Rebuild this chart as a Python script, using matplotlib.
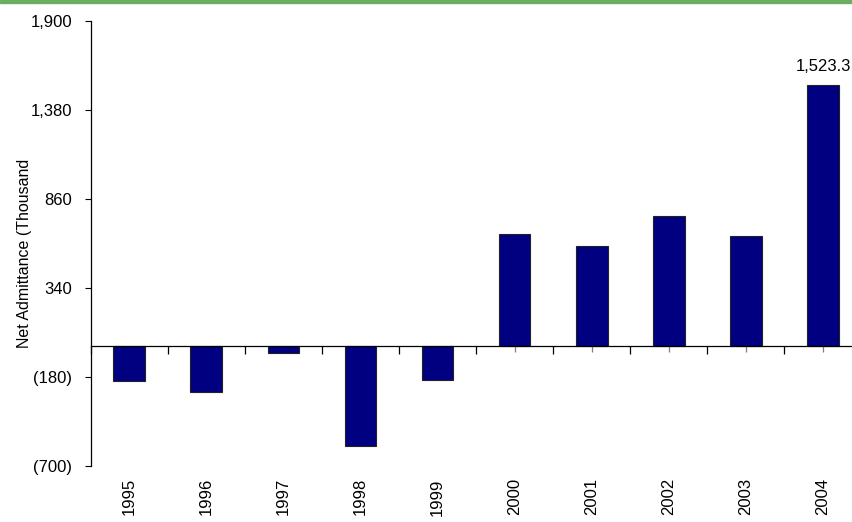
import matplotlib.pyplot as plt
from matplotlib.patches import Rectangle
from matplotlib.ticker import FuncFormatter
import numpy as np

plt.rcParams['font.family'] = ['Liberation Sans', 'DejaVu Sans']

years = ['1995', '1996', '1997', '1998', '1999', '2000', '2001', '2002', '2003', '2004']
net_admittance = [-205, -272, -42, -583, -200, 655, 586, 758, 643, 1523.3]
y_ticks = [-700, -180, 340, 860, 1380, 1900]


def fmt(v, pos=None):
    if v < 0:
        return '({:,.0f})'.format(-v)
    return '{:,.0f}'.format(v)


fig = plt.figure(figsize=(8.53, 5.22), dpi=100)
ax = fig.add_axes([0.1063, 0.1078, 0.9037, 0.8525])

x = np.arange(len(years))
ax.bar(x, net_admittance, width=0.41, color='#000080', edgecolor='#222222', linewidth=0.8, zorder=2)

# value label on the last bar only
ax.annotate('{:,.1f}'.format(net_admittance[-1]), xy=(x[-1], net_admittance[-1]),
            xytext=(0, 8), textcoords='offset points', ha='center', va='bottom', fontsize=12)

ax.set_xlim(-0.5, len(years) - 0.5)
ax.set_ylim(y_ticks[0], y_ticks[-1])
ax.set_yticks(y_ticks)
ax.yaxis.set_major_formatter(FuncFormatter(fmt))
ax.tick_params(axis='y', length=4.5, width=0.8, pad=9, labelsize=12)

# zero line carries the category ticks
ax.spines['bottom'].set_position(('data', 0))
ax.spines['top'].set_visible(False)
ax.spines['right'].set_visible(False)
ax.spines['left'].set_linewidth(0.9)
ax.spines['bottom'].set_linewidth(0.9)
ax.spines['bottom'].set_zorder(3)
ax.set_xticks(np.arange(-0.5, len(years), 1.0))
ax.set_xticks(x, minor=True)
ax.tick_params(axis='x', which='major', length=6, width=0.9, labelbottom=False, direction='out')
ax.tick_params(axis='x', which='minor', length=4, width=0.9, color='#808080', labelbottom=False,
               direction='out')

# year labels sit under the plot
sec = ax.secondary_xaxis('bottom')
sec.set_xticks(x)
sec.set_xticklabels(years, rotation=90, fontsize=12)
sec.tick_params(length=0, pad=9)
sec.spines['bottom'].set_visible(False)

ax.set_ylabel('Net Admittance (Thousand', fontsize=11.5)
ax.yaxis.set_label_coords(-0.076, 0.478)

fig.patches.append(Rectangle((0, 1 - 3 / 522), 1, 3 / 522, transform=fig.transFigure,
                             color='#6aae64', zorder=5))

fig.savefig('out.png', dpi=100)
